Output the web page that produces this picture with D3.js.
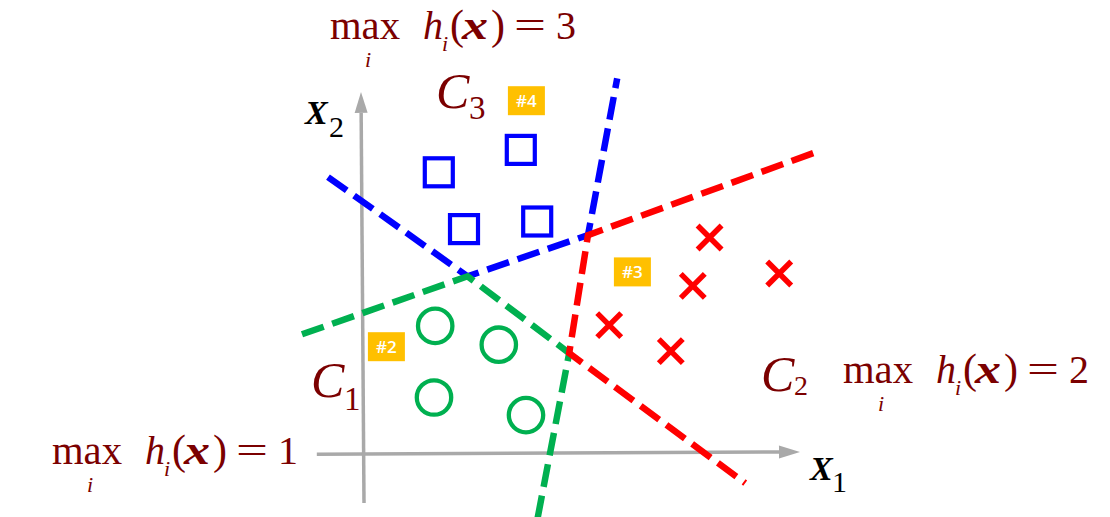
<!DOCTYPE html>
<html>
<head>
<meta charset="utf-8">
<script src="https://cdn.jsdelivr.net/npm/d3@7"></script>
<style>
  html, body { margin: 0; padding: 0; background: #fff; }
  svg { display: block; }
</style>
</head>
<body>
<svg id="chart" width="1110" height="517"></svg>
<script>
// ---------- data (feature-space units) ----------
const classC3Squares = [[1.87, 7.05], [3.92, 7.61], [2.50, 5.63], [4.33, 5.82]];
const classC2Crosses = [[8.64, 5.42], [8.22, 4.21], [10.38, 4.52], [6.13, 3.23], [7.67, 2.58]];
const classC1Circles = [[1.78, 3.21], [3.37, 2.74], [1.75, 1.42], [4.05, 0.98]];

const blueBoundary  = [[-0.90, 6.93], [2.59, 4.45], [5.60, 5.48], [6.33, 9.40]];
const redBoundary   = [[11.23, 7.53], [5.60, 5.48], [5.13, 2.53], [9.53, -0.72]];
const greenBoundary = [[-1.55, 3.00], [2.59, 4.45], [5.13, 2.53], [4.33, -1.65]];

const axisX1 = [[-1.18, 0.0], [10.90, 0.06]];
const axisX2 = [[0.0, -1.22], [-0.075, 9.06]];

const badgeLabels = ["#4", "#3", "#2"];
const badgeCenters = [[4.06, 8.84], [6.71, 4.56], [0.56, 2.69]];

const regionDigits = ["3", "2", "1"];

// ---------- scales ----------
const x = d3.scaleLinear().domain([0, 10]).range([364, 764]);
const y = d3.scaleLinear().domain([0, 10]).range([454.3, 54.3]);

const svg = d3.select("#chart");
const DARK = "#7b0000";
const SERIF = "'Liberation Serif', 'Times New Roman', serif";

// ---------- axes with arrows ----------
function arrowAxis(pts) {
  const [a, b] = pts.map(p => [x(p[0]), y(p[1])]);
  const ang = Math.atan2(b[1] - a[1], b[0] - a[0]);
  const L = 21, W = 6.5;
  const base = [b[0] - L * Math.cos(ang), b[1] - L * Math.sin(ang)];
  svg.append("line")
    .attr("x1", a[0]).attr("y1", a[1]).attr("x2", base[0]).attr("y2", base[1])
    .attr("stroke", "#a9a9a9").attr("stroke-width", 3.5);
  const nx = -Math.sin(ang), ny = Math.cos(ang);
  svg.append("polygon")
    .attr("points", [b, [base[0] + nx * W, base[1] + ny * W], [base[0] - nx * W, base[1] - ny * W]]
      .map(p => p.join(",")).join(" "))
    .attr("fill", "#a9a9a9");
}
arrowAxis(axisX1);
arrowAxis(axisX2);

// ---------- decision boundaries ----------
const line = d3.line().x(d => x(d[0])).y(d => y(d[1]));
[[blueBoundary, "#0000ff"], [greenBoundary, "#00b050"], [redBoundary, "#ff0000"]].forEach(([pts, col]) => {
  svg.append("path").datum(pts)
    .attr("d", line)
    .attr("fill", "none")
    .attr("stroke", col)
    .attr("stroke-width", 6.5)
    .attr("stroke-dasharray", "23,9")
    .attr("stroke-linejoin", "miter");
});

// ---------- markers ----------
const SQ = 28;
svg.selectAll(".sq").data(classC3Squares).enter().append("rect")
  .attr("x", d => x(d[0]) - SQ / 2).attr("y", d => y(d[1]) - SQ / 2)
  .attr("width", SQ).attr("height", SQ)
  .attr("fill", "none").attr("stroke", "#0000ff").attr("stroke-width", 4.2);

svg.selectAll(".ci").data(classC1Circles).enter().append("circle")
  .attr("cx", d => x(d[0])).attr("cy", d => y(d[1])).attr("r", 17.2)
  .attr("fill", "none").attr("stroke", "#00b050").attr("stroke-width", 4.3);

const XS = 12;
svg.selectAll(".cr").data(classC2Crosses).enter().append("path")
  .attr("d", d => {
    const cx = x(d[0]), cy = y(d[1]);
    return `M${cx - XS},${cy - XS}L${cx + XS},${cy + XS}M${cx - XS},${cy + XS}L${cx + XS},${cy - XS}`;
  })
  .attr("stroke", "#ff0000").attr("stroke-width", 5.5).attr("fill", "none");

// ---------- badges ----------
badgeLabels.forEach((lab, i) => {
  const cx = x(badgeCenters[i][0]), cy = y(badgeCenters[i][1]);
  svg.append("rect").attr("x", cx - 18.5).attr("y", cy - 14.5)
    .attr("width", 37).attr("height", 29).attr("fill", "#ffc000");
  svg.append("text").attr("x", cx).attr("y", cy + 6)
    .attr("text-anchor", "middle")
    .attr("font-family", "'Open Sans', 'Noto Sans', sans-serif")
    .attr("font-size", 17).attr("font-weight", 600)
    .attr("fill", "#fff").text(lab);
});

// ---------- text labels ----------
function txt(px, py, s, size, opts = {}) {
  const t = svg.append("text").attr("x", px).attr("y", py)
    .attr("font-family", SERIF).attr("font-size", size)
    .attr("fill", opts.fill || DARK)
    .attr("font-style", opts.italic ? "italic" : "normal")
    .attr("font-weight", opts.bold ? "bold" : "normal")
    .text(s);
  if (opts.len) t.attr("textLength", opts.len).attr("lengthAdjust", "spacingAndGlyphs");
  return t;
}

function mathLabel(x0, y0, digit) {
  txt(x0, y0, "max", 40, { len: 70 });
  txt(x0 + 35, y0 + 28, "i", 22, { italic: true });
  txt(x0 + 93, y0, "h", 40, { italic: true });
  txt(x0 + 112, y0 + 12, "i", 22, { italic: true });
  txt(x0 + 120, y0, "(", 42);
  txt(x0 + 132, y0, "x", 42, { italic: true, bold: true, len: 26 });
  txt(x0 + 161, y0, ")", 42);
  txt(x0 + 184, y0, "=", 40, { len: 32 });
  txt(x0 + 226, y0, digit, 40);
}
mathLabel(330, 39, regionDigits[0]);
mathLabel(843, 383, regionDigits[1]);
mathLabel(52, 464, regionDigits[2]);

// region labels C_k
txt(436, 108, "C", 50, { italic: true });
txt(469, 119, "3", 33);
txt(311, 397, "C", 50, { italic: true });
txt(344, 410, "1", 33);
txt(761, 391, "C", 50, { italic: true });
txt(794, 395, "2", 28);

// axis labels
txt(305, 124, "X", 34, { italic: true, bold: true, fill: "#000" });
txt(329, 137, "2", 30, { fill: "#000" });
txt(810, 480, "X", 34, { italic: true, bold: true, fill: "#000" });
txt(832, 492, "1", 30, { fill: "#000" });
</script>
</body>
</html>
